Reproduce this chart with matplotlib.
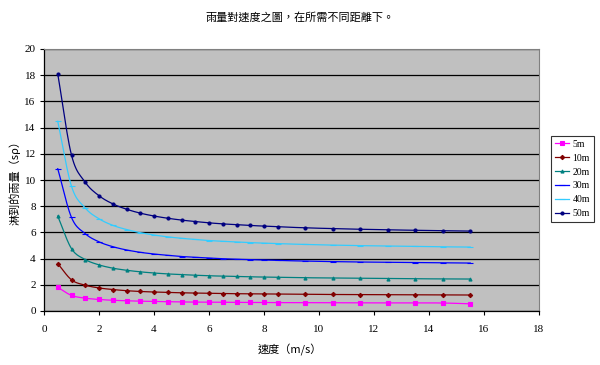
import matplotlib
matplotlib.use("Agg")
import matplotlib.pyplot as plt
import numpy as np
from matplotlib.ticker import MultipleLocator

plt.rcParams['font.family'] = ['Liberation Serif', 'Noto Sans CJK TC', 'DejaVu Sans']

speed = [0.5, 1, 1.5, 2, 2.5, 3, 3.5, 4, 4.5, 5, 5.5, 6, 6.5, 7, 7.5, 8, 8.5,
         9.5, 10.5, 11.5, 12.5, 13.5, 14.5, 15.5]

s5 = [1.81, 1.19, 0.98, 0.88, 0.82, 0.78, 0.75, 0.73, 0.71, 0.69, 0.68, 0.67,
      0.67, 0.66, 0.65, 0.65, 0.64, 0.64, 0.63, 0.62, 0.62, 0.62, 0.61, 0.55]
s10 = [3.62, 2.38, 1.97, 1.76, 1.64, 1.55, 1.49, 1.45, 1.42, 1.39, 1.37, 1.35,
       1.33, 1.32, 1.31, 1.30, 1.29, 1.27, 1.26, 1.25, 1.24, 1.23, 1.23, 1.22]
s20 = [7.24, 4.76, 3.93, 3.52, 3.27, 3.11, 2.99, 2.90, 2.83, 2.78, 2.73, 2.69,
       2.66, 2.64, 2.61, 2.59, 2.57, 2.54, 2.52, 2.50, 2.48, 2.46, 2.45, 2.44]
s30 = [10.86, 7.14, 5.90, 5.28, 4.91, 4.66, 4.48, 4.35, 4.25, 4.16, 4.10, 4.04,
       3.99, 3.95, 3.92, 3.89, 3.86, 3.81, 3.77, 3.74, 3.72, 3.70, 3.68, 3.66]
s40 = [14.48, 9.52, 7.86, 7.04, 6.54, 6.22, 5.98, 5.80, 5.66, 5.55, 5.46, 5.38,
       5.32, 5.27, 5.22, 5.18, 5.14, 5.08, 5.03, 4.99, 4.96, 4.93, 4.90, 4.88]
s50 = [18.10, 11.90, 9.83, 8.80, 8.18, 7.77, 7.47, 7.25, 7.08, 6.94, 6.83, 6.73,
       6.65, 6.59, 6.53, 6.48, 6.43, 6.35, 6.29, 6.24, 6.20, 6.16, 6.13, 6.10]

series_names = ['5m', '10m', '20m', '30m', '40m', '50m']
series_values = [s5, s10, s20, s30, s40, s50]
colors = ['#FF00FF', '#800000', '#008080', '#0000FF', '#33CCFF', '#000080']
markers = ['s', 'D', '^', '_', '_', 'o']
msizes = [2.5, 2.2, 2.2, 4, 4, 2.2]

title = '雨量對速度之圖，在所需不同距離下。'
xlabel = '速度（m/s）'
ylabel = '淋到的雨量（sρ）'


def smooth(x, y, n=12):
    """Catmull-Rom style smoothing through data points (like Excel smoothed lines)."""
    x = np.asarray(x, float)
    y = np.asarray(y, float)
    px = np.concatenate([[2 * x[0] - x[1]], x, [2 * x[-1] - x[-2]]])
    py = np.concatenate([[2 * y[0] - y[1]], y, [2 * y[-1] - y[-2]]])
    xs, ys = [], []
    t = np.linspace(0, 1, n, endpoint=False)
    for i in range(1, len(px) - 2):
        p0, p1, p2, p3 = [np.array([px[j], py[j]]) for j in (i - 1, i, i + 1, i + 2)]
        t2, t3 = t * t, t * t * t
        pts = 0.5 * ((2 * p1)[:, None] + (-p0 + p2)[:, None] * t
                     + (2 * p0 - 5 * p1 + 4 * p2 - p3)[:, None] * t2
                     + (-p0 + 3 * p1 - 3 * p2 + p3)[:, None] * t3)
        xs.extend(pts[0])
        ys.extend(pts[1])
    xs.append(x[-1])
    ys.append(y[-1])
    return xs, ys


fig = plt.figure(figsize=(6.0, 3.65), dpi=100)
ax = fig.add_axes([44/600, 1-311/365, (539-44)/600, (311-49)/365])
ax.set_facecolor('#C0C0C0')

for name, vals, c, m, ms in zip(series_names, series_values, colors, markers, msizes):
    sx, sy = smooth(speed, vals)
    ax.plot(sx, sy, color=c, lw=0.9)
    ax.plot(speed, vals, color=c, lw=0, marker=m, markersize=ms,
            markeredgewidth=0.8)
    ax.plot([], [], color=c, lw=0.9, marker=m, markersize=ms,
            markeredgewidth=0.8, label=name)

ax.set_xlim(0, 18)
ax.set_ylim(0, 20)
ax.xaxis.set_major_locator(MultipleLocator(2))
ax.yaxis.set_major_locator(MultipleLocator(2))
ax.yaxis.grid(True, color='black', lw=0.9)
ax.set_axisbelow(True)
for side in ['top', 'right']:
    ax.spines[side].set_color('#808080')
    ax.spines[side].set_linewidth(0.8)
for side in ['left', 'bottom']:
    ax.spines[side].set_color('black')
    ax.spines[side].set_linewidth(0.9)
ax.tick_params(axis='both', direction='out', length=3, width=0.8,
               labelsize=8, colors='black')
ax.tick_params(axis='y', pad=3)
ax.tick_params(axis='x', pad=7)

fig.text(0.5, 1-17/365, title, ha='center', va='center', fontsize=8,
         family=['Noto Sans CJK TC', 'DejaVu Sans'])
fig.text(290/600, 1-350/365, xlabel, ha='center', va='center', fontsize=8,
         family=['Noto Sans CJK TC', 'DejaVu Sans'])
fig.text(15/600, 1-180/365, ylabel, ha='center', va='center', fontsize=8,
         rotation=90, family=['Noto Sans CJK TC', 'DejaVu Sans'])

leg = ax.legend(loc='upper left', bbox_to_anchor=(551/600, 1-136/365),
                bbox_transform=fig.transFigure, frameon=True, fancybox=False,
                fontsize=7, handlelength=1.5, handletextpad=0.3,
                borderpad=0.4, labelspacing=0.5, borderaxespad=0)
leg.get_frame().set_edgecolor('black')
leg.get_frame().set_linewidth(0.8)

fig.savefig('out.png', dpi=100)
